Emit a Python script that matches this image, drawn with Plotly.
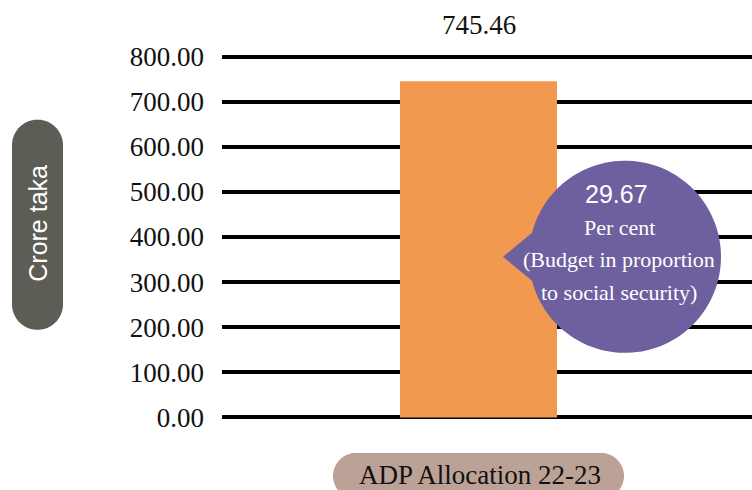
import math
import plotly.graph_objects as go

# ---- data ----
categories = ["ADP Allocation 22-23"]
values = [745.46]
value_labels = ["745.46"]
tick_vals = [0, 100, 200, 300, 400, 500, 600, 700, 800]
tick_text = ["%.2f" % v for v in tick_vals]
axis_title = "Crore taka"
callout_value = "29.67"
callout_lines = ["Per cent", "(Budget in proportion", "to social security)"]

W, H = 752, 490
L, R, T, B = 222, 0, 53.4, 68.9
PW, PH = W - L - R, H - T - B

def px(x):
    return (x - L) / PW

def py(y):
    return (H - B - y) / PH

def poly(points):
    s = "M " + " L ".join("%.5f,%.5f" % (px(x), py(y)) for x, y in points) + " Z"
    return s

def pill(x0, y0, x1, y1, r, n=24):
    pts = []
    # top-right corner
    for cx, cy, a0 in [(x1 - r, y0 + r, -90), (x1 - r, y1 - r, 0), (x0 + r, y1 - r, 90), (x0 + r, y0 + r, 180)]:
        for i in range(n + 1):
            a = math.radians(a0 + 90 * i / n)
            pts.append((cx + r * math.cos(a), cy + r * math.sin(a)))
    return poly(pts)

def callout(cx, cy, r, tipx, half):
    dy = half
    ang = math.degrees(math.asin(dy / r))
    start = 180 + ang  # upper base (screen y downwards, so negative sin is up)
    pts = [(tipx, cy)]
    # go from lower-left base point around circle to upper-left base point
    a_start = 180 - ang
    a_end = -180 + ang
    n = 120
    for i in range(n + 1):
        a = math.radians(a_start + (a_end - a_start) * i / n)
        pts.append((cx + r * math.cos(a), cy + r * math.sin(a)))
    return poly(pts)

fig = go.Figure()
fig.add_trace(go.Bar(
    x=[0], y=values, width=[1.0],
    marker=dict(color="#F0994F", line=dict(width=0)),
    text=value_labels, textposition="none", hoverinfo="skip",
))

bar_center_px = 478.5
bar_w_px = 157
xr0 = 0 - (bar_center_px - L) / bar_w_px
xr1 = 0 + (W - R - bar_center_px) / bar_w_px

fig.update_layout(
    width=W, height=H,
    margin=dict(l=L, r=R, t=T, b=B, pad=0),
    paper_bgcolor="white", plot_bgcolor="white",
    showlegend=False,
    xaxis=dict(range=[xr0, xr1], showgrid=False, zeroline=False, showticklabels=False,
               showline=False, ticks=""),
    yaxis=dict(range=[-8, 808], tickvals=tick_vals, ticktext=tick_text,
               showgrid=True, gridcolor="black", gridwidth=4,
               zeroline=False, showline=False, ticks="",
               ticklabelstandoff=17,
               tickfont=dict(family="Liberation Serif", size=27, color="#111")),
    shapes=[
        dict(type="path", xref="paper", yref="paper", path=pill(12, 120, 63, 330, 25.5),
             fillcolor="#5E5D55", line=dict(width=0), layer="above"),
        dict(type="path", xref="paper", yref="paper", path=pill(333, 453, 624, 499, 23),
             fillcolor="#BCA296", line=dict(width=0), layer="above"),
        dict(type="path", xref="paper", yref="paper", path=callout(625, 257, 96, 503, 24),
             fillcolor="#6E5F9E", line=dict(width=0), layer="above"),
    ],
)

ann = []
ann.append(dict(x=px(478.5), y=py(25), xref="paper", yref="paper", text=value_labels[0],
                showarrow=False, xanchor="center", yanchor="middle",
                font=dict(family="Liberation Serif", size=27, color="#111")))
ann.append(dict(x=px(38), y=py(224), xref="paper", yref="paper", text=axis_title,
                showarrow=False, textangle=-90, xanchor="center", yanchor="middle",
                font=dict(family="Liberation Sans", size=25, color="white")))
ann.append(dict(x=px(480), y=py(475), xref="paper", yref="paper", text=categories[0],
                showarrow=False, xanchor="center", yanchor="middle",
                font=dict(family="Liberation Serif", size=27, color="#111")))
ann.append(dict(x=px(616), y=py(194), xref="paper", yref="paper", text=callout_value,
                showarrow=False, xanchor="center", yanchor="middle",
                font=dict(family="Liberation Sans", size=25, color="white")))
for txt, yy in zip(callout_lines, [228, 260, 293]):
    ann.append(dict(x=px(619), y=py(yy), xref="paper", yref="paper", text=txt,
                    showarrow=False, xanchor="center", yanchor="middle",
                    font=dict(family="Liberation Serif", size=22, color="white")))
fig.update_layout(annotations=ann)

fig.write_html("out.html")
